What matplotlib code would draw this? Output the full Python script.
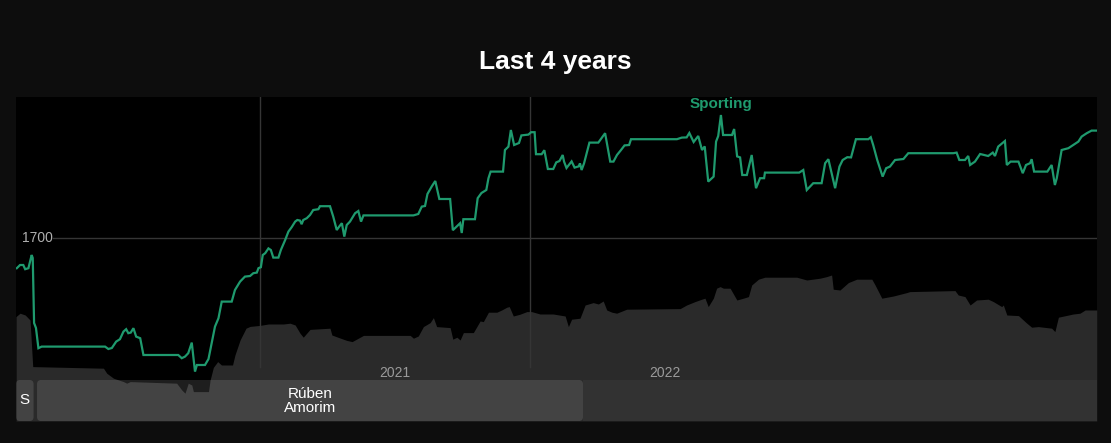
import matplotlib.pyplot as plt
import matplotlib.transforms as mtransforms
from matplotlib.patches import FancyBboxPatch, Rectangle

plt.rcParams['font.family'] = ['Liberation Sans', 'DejaVu Sans']

# Sporting elo rating (x in decimal years)
elo_t = [2020.099, 2020.111, 2020.123, 2020.130, 2020.142, 2020.154, 2020.158, 2020.163, 2020.170, 2020.179,
         2020.191, 2020.426, 2020.438, 2020.451, 2020.467, 2020.481, 2020.494, 2020.504, 2020.512, 2020.521,
         2020.531, 2020.541, 2020.556, 2020.568, 2020.697, 2020.710, 2020.722, 2020.734, 2020.747, 2020.759,
         2020.766, 2020.796, 2020.809, 2020.833, 2020.846, 2020.858, 2020.895, 2020.907, 2020.926, 2020.944,
         2020.963, 2020.975, 2020.988, 2020.994, 2021.003, 2021.010, 2021.019, 2021.031, 2021.040, 2021.049,
         2021.068, 2021.077, 2021.093, 2021.105, 2021.117, 2021.130, 2021.138, 2021.148, 2021.154, 2021.160,
         2021.173, 2021.185, 2021.197, 2021.216, 2021.222, 2021.259, 2021.271, 2021.284, 2021.293, 2021.303,
         2021.312, 2021.321, 2021.333, 2021.352, 2021.364, 2021.374, 2021.383, 2021.568, 2021.586, 2021.599,
         2021.611, 2021.620, 2021.636, 2021.649, 2021.664, 2021.704, 2021.714, 2021.741, 2021.747, 2021.753,
         2021.796, 2021.806, 2021.820, 2021.838, 2021.846, 2021.854, 2021.900, 2021.907, 2021.920, 2021.929,
         2021.941, 2021.959, 2021.968, 2021.994, 2022.004, 2022.017, 2022.022, 2022.043, 2022.053, 2022.066,
         2022.086, 2022.097, 2022.109, 2022.121, 2022.126, 2022.135, 2022.154, 2022.165, 2022.180, 2022.185,
         2022.191, 2022.200, 2022.220, 2022.253, 2022.278, 2022.297, 2022.309, 2022.322, 2022.337, 2022.350,
         2022.367, 2022.374, 2022.544, 2022.562, 2022.580, 2022.590, 2022.606, 2022.623, 2022.637, 2022.647,
         2022.660, 2022.680, 2022.689, 2022.697, 2022.707, 2022.715, 2022.748, 2022.756, 2022.767, 2022.778,
         2022.786, 2022.803, 2022.821, 2022.837, 2022.852, 2022.867, 2022.870, 2022.997, 2023.012, 2023.025,
         2023.037, 2023.049, 2023.080, 2023.093, 2023.105, 2023.117, 2023.130, 2023.146, 2023.158, 2023.175,
         2023.189, 2023.207, 2023.253, 2023.262, 2023.271, 2023.286, 2023.306, 2023.319, 2023.333, 2023.352,
         2023.383, 2023.401, 2023.568, 2023.580, 2023.590, 2023.611, 2023.623, 2023.630, 2023.648, 2023.667,
         2023.697, 2023.714, 2023.722, 2023.734, 2023.759, 2023.766, 2023.780, 2023.809, 2023.825, 2023.837,
         2023.852, 2023.858, 2023.867, 2023.916, 2023.932, 2023.944, 2023.951, 2023.969, 2023.994, 2024.012,
         2024.031, 2024.043, 2024.062, 2024.080, 2024.099]
elo_v = [1684.9, 1686.5, 1686.5, 1684.4, 1684.9, 1691.5, 1690.0, 1657.5, 1655.0, 1644.9,
         1645.7, 1645.7, 1644.5, 1645.0, 1648.2, 1649.4, 1653.2, 1654.4, 1652.4, 1652.7,
         1654.9, 1650.7, 1649.9, 1641.5, 1641.5, 1639.9, 1640.7, 1642.4, 1647.7, 1633.2,
         1636.5, 1636.5, 1639.5, 1655.7, 1659.9, 1668.2, 1668.2, 1674.0, 1678.2, 1680.7,
         1681.0, 1682.4, 1682.7, 1684.9, 1685.4, 1691.5, 1692.4, 1694.8, 1694.0, 1690.2,
         1690.2, 1694.0, 1699.0, 1703.2, 1705.4, 1708.2, 1709.0, 1708.7, 1706.9, 1709.0,
         1709.9, 1711.5, 1714.0, 1714.4, 1715.9, 1715.9, 1710.7, 1704.0, 1705.7, 1707.4,
         1700.7, 1706.5, 1708.2, 1712.4, 1713.5, 1708.2, 1711.3, 1711.3, 1712.0, 1715.7,
         1716.0, 1722.0, 1725.8, 1728.5, 1719.5, 1719.5, 1703.9, 1707.4, 1702.5, 1709.4,
         1709.4, 1719.9, 1722.5, 1724.0, 1729.9, 1733.2, 1733.2, 1744.0, 1745.7, 1754.0,
         1746.5, 1747.5, 1751.3, 1751.7, 1752.9, 1752.9, 1741.9, 1741.9, 1743.9, 1734.5,
         1734.5, 1737.8, 1738.5, 1741.5, 1738.2, 1735.0, 1738.3, 1735.2, 1735.8, 1737.3,
         1734.0, 1737.3, 1747.7, 1747.7, 1752.4, 1738.2, 1738.2, 1741.5, 1744.0, 1746.3,
         1746.5, 1749.4, 1749.4, 1750.2, 1750.3, 1752.5, 1748.0, 1751.0, 1744.0, 1745.8,
         1728.2, 1730.7, 1748.2, 1751.0, 1761.5, 1751.5, 1751.5, 1754.5, 1740.8, 1740.3,
         1731.5, 1731.5, 1741.5, 1724.9, 1729.9, 1729.9, 1732.7, 1732.7, 1734.0, 1724.0,
         1725.7, 1727.4, 1727.4, 1737.4, 1739.4, 1732.4, 1724.9, 1735.7, 1739.0, 1740.4,
         1740.3, 1749.4, 1749.4, 1750.4, 1746.5, 1739.0, 1730.7, 1734.9, 1735.7, 1739.0,
         1739.5, 1742.4, 1742.4, 1742.7, 1739.0, 1739.0, 1741.0, 1736.5, 1738.2, 1742.0,
         1741.0, 1742.7, 1741.0, 1745.7, 1748.5, 1736.5, 1738.2, 1738.2, 1732.4, 1736.5,
         1737.4, 1739.4, 1733.2, 1733.2, 1736.5, 1726.5, 1729.9, 1744.0, 1744.9, 1746.5,
         1748.2, 1750.7, 1752.4, 1753.7, 1753.7]

# grey background series
area_t = [2020.096, 2020.111, 2020.130, 2020.148, 2020.158, 2020.420, 2020.432, 2020.457, 2020.494, 2020.506,
          2020.519, 2020.691, 2020.710, 2020.722, 2020.734, 2020.747, 2020.753, 2020.809, 2020.815, 2020.827,
          2020.843, 2020.857, 2020.898, 2020.907, 2020.926, 2020.948, 2020.963, 2021.000, 2021.031, 2021.086,
          2021.111, 2021.130, 2021.148, 2021.160, 2021.185, 2021.259, 2021.266, 2021.290, 2021.321, 2021.341,
          2021.383, 2021.556, 2021.568, 2021.586, 2021.605, 2021.630, 2021.642, 2021.654, 2021.704, 2021.714,
          2021.729, 2021.741, 2021.753, 2021.790, 2021.803, 2021.815, 2021.827, 2021.846, 2021.877, 2021.895,
          2021.914, 2021.923, 2021.938, 2021.963, 2021.988, 2022.006, 2022.037, 2022.086, 2022.130, 2022.142,
          2022.154, 2022.185, 2022.204, 2022.234, 2022.253, 2022.271, 2022.284, 2022.303, 2022.321, 2022.358,
          2022.556, 2022.580, 2022.611, 2022.636, 2022.648, 2022.660, 2022.679, 2022.691, 2022.704, 2022.716,
          2022.741, 2022.766, 2022.790, 2022.809, 2022.821, 2022.846, 2022.870, 2022.988, 2023.025, 2023.074,
          2023.099, 2023.117, 2023.123, 2023.148, 2023.179, 2023.210, 2023.266, 2023.278, 2023.303, 2023.346,
          2023.395, 2023.407, 2023.574, 2023.586, 2023.611, 2023.630, 2023.654, 2023.697, 2023.716, 2023.747,
          2023.753, 2023.766, 2023.809, 2023.840, 2023.858, 2023.883, 2023.932, 2023.944, 2023.957, 2024.012,
          2024.037, 2024.056, 2024.099]
area_v = [1660.7, 1662.4, 1661.5, 1659.0, 1635.7, 1634.9, 1632.4, 1629.9, 1628.2, 1627.4,
          1628.2, 1627.4, 1624.0, 1622.4, 1627.4, 1626.5, 1623.2, 1623.2, 1629.0, 1635.3,
          1638.2, 1636.5, 1636.5, 1641.5, 1649.0, 1654.9, 1655.8, 1656.3, 1657.0, 1657.0,
          1657.4, 1656.5, 1652.4, 1650.4, 1654.3, 1654.9, 1651.5, 1650.3, 1648.8, 1648.2,
          1651.3, 1651.3, 1649.9, 1651.0, 1655.7, 1657.7, 1660.2, 1655.7, 1655.2, 1649.4,
          1650.4, 1649.0, 1652.7, 1652.7, 1655.7, 1658.5, 1658.2, 1662.9, 1662.9, 1664.0,
          1665.4, 1665.7, 1661.0, 1661.9, 1663.2, 1663.2, 1662.0, 1662.0, 1661.0, 1655.7,
          1659.4, 1659.9, 1666.5, 1667.7, 1667.0, 1668.5, 1664.0, 1662.9, 1662.4, 1664.4,
          1664.7, 1666.5, 1668.2, 1669.4, 1669.9, 1665.7, 1669.9, 1674.9, 1675.7, 1674.9,
          1674.9, 1669.0, 1669.9, 1670.7, 1676.5, 1679.4, 1680.4, 1680.4, 1679.0, 1679.9,
          1680.7, 1681.5, 1674.4, 1674.0, 1677.7, 1679.4, 1679.4, 1676.5, 1669.9, 1671.0,
          1672.7, 1673.2, 1673.7, 1671.5, 1670.7, 1666.5, 1669.0, 1669.4, 1668.2, 1665.7,
          1666.5, 1661.5, 1661.2, 1657.4, 1655.4, 1655.7, 1654.9, 1653.2, 1660.4, 1662.0,
          1662.4, 1664.0, 1664.0]

# managers
managers = ['S', 'Rúben\nAmorim', '']
mgr_start = [2020.096, 2020.174, 2022.196]
mgr_end = [2020.161, 2022.196, 2024.100]

year_lines = [2021, 2022]
year_labels = ['2021', '2022']
y_ticks = [1700]

GREEN = '#1f9a6e'
BG = '#0d0d0d'

fig = plt.figure(figsize=(11.11, 4.43), dpi=100, facecolor=BG)
ax = fig.add_axes([16 / 1111, 22 / 443, 1081 / 1111, 324 / 443])
ax.set_facecolor('black')
ax.set_xlim(2020.096, 2024.100)
ax.set_ylim(1608.5, 1770.5)
for s in ax.spines.values():
    s.set_visible(False)
ax.set_xticks([])
ax.set_yticks([])

ax.fill_between(area_t, area_v, 1608.5, color='#2a2a2a', lw=0, zorder=1)

for x in year_lines:
    ax.axvline(x, ymin=0.167, ymax=1, color='#353535', lw=1, zorder=3)
for y in y_ticks:
    ax.axhline(y, xmin=0.034, xmax=1, color='#353535', lw=1, zorder=3)
    ax.text(2020.096 + 0.022, y, str(y), color='#b0b0b0', fontsize=10, va='center', ha='left', zorder=4)

trans = mtransforms.blended_transform_factory(ax.transData, ax.transAxes)
for x, lab in zip(year_lines, year_labels):
    ax.text(x + 0.5, 0.148, lab, transform=trans, color='#9a9a9a', fontsize=10, ha='center', va='center')

ax.plot(elo_t, elo_v, color=GREEN, lw=1.6, zorder=4, solid_joinstyle='miter')
ax.text(2022.707, 1767, 'Sporting', color=GREEN, fontsize=11, fontweight='bold', ha='center', va='center')

band_h = 41 / 324
for name, a, b in zip(managers, mgr_start, mgr_end):
    if name:
        box = FancyBboxPatch((a, 0), b - a, band_h, boxstyle='round,pad=0,rounding_size=0.015',
                             mutation_aspect=0.83, transform=trans, facecolor='white', alpha=0.12,
                             lw=0, zorder=5)
        ax.add_patch(box)
        ax.text((a + b) / 2, band_h / 2, name, transform=trans, color='white', fontsize=11,
                ha='center', va='center', linespacing=1.0, zorder=6)
    else:
        ax.add_patch(Rectangle((a, 0), b - a, band_h, transform=trans, facecolor='white',
                               alpha=0.04, lw=0, zorder=5))

fig.text(0.5, 1 - 62 / 443, 'Last 4 years', color='white', fontsize=19, fontweight='bold',
         ha='center', va='center')

fig.savefig('out.png', dpi=100, facecolor=BG)
